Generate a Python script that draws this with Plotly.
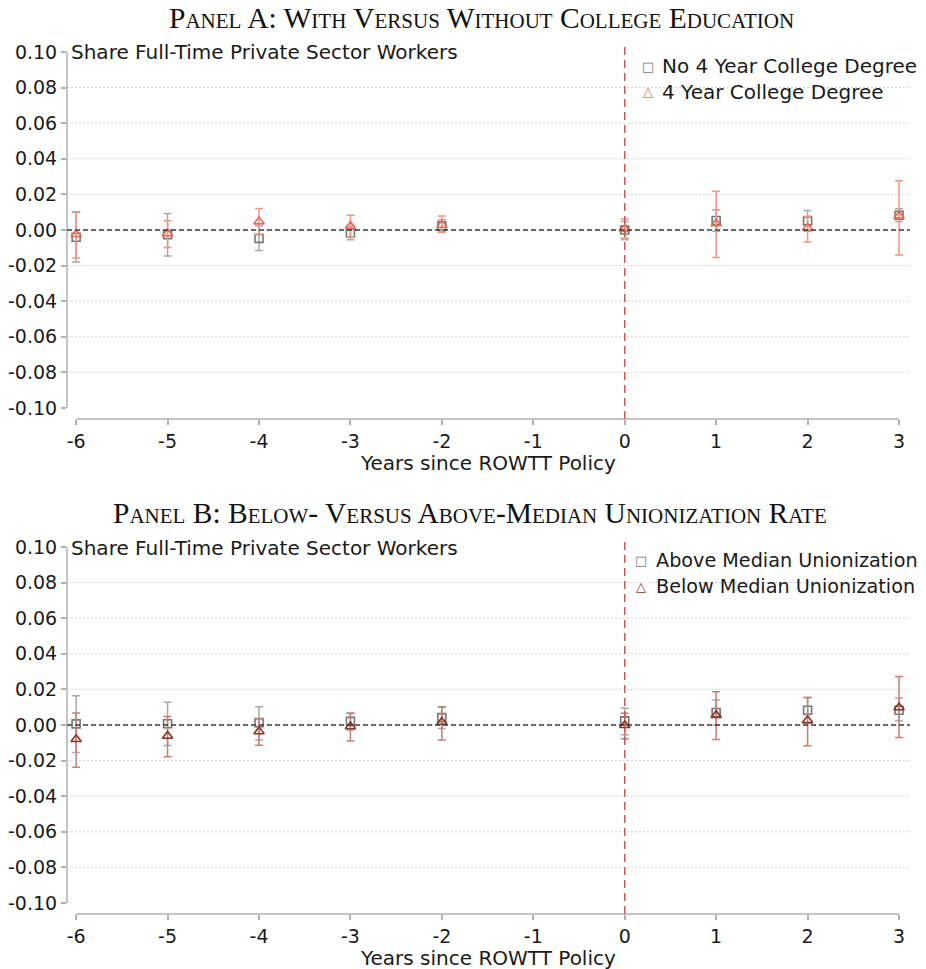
import plotly.graph_objects as go

# ---------------- data ----------------
years = [-6, -5, -4, -3, -2, 0, 1, 2, 3]
x_ticks = [-6, -5, -4, -3, -2, -1, 0, 1, 2, 3]
y_ticks = [-0.10, -0.08, -0.06, -0.04, -0.02, 0.00, 0.02, 0.04, 0.06, 0.08, 0.10]
y_tick_labels = ["-0.10", "-0.08", "-0.06", "-0.04", "-0.02", "0.00",
                 "0.02", "0.04", "0.06", "0.08", "0.10"]
x_tick_labels = ["-6", "-5", "-4", "-3", "-2", "-1", "0", "1", "2", "3"]

# Panel A
no_college_est = [-0.0041, -0.0026, -0.0047, -0.0017, 0.0024, 0.0000, 0.0053, 0.0051, 0.0083]
no_college_lo = [-0.0180, -0.0146, -0.0116, -0.0055, -0.0010, -0.0047, -0.0007, -0.0007, 0.0047]
no_college_hi = [0.0098, 0.0092, 0.0022, 0.0021, 0.0058, 0.0047, 0.0113, 0.0109, 0.0119]
college_est = [-0.0024, -0.0020, 0.0047, 0.0022, 0.0028, 0.0005, 0.0036, 0.0011, 0.0079]
college_lo = [-0.0157, -0.0099, -0.0027, -0.0038, -0.0013, -0.0055, -0.0155, -0.0068, -0.0140]
college_hi = [0.0103, 0.0052, 0.0121, 0.0082, 0.0079, 0.0062, 0.0217, 0.0077, 0.0277]

# Panel B
above_est = [0.0006, 0.0007, 0.0013, 0.0020, 0.0041, 0.0023, 0.0070, 0.0083, 0.0083]
above_lo = [-0.0155, -0.0116, -0.0085, -0.0030, -0.0020, -0.0055, 0.0000, 0.0010, 0.0023]
above_hi = [0.0164, 0.0127, 0.0103, 0.0065, 0.0099, 0.0094, 0.0140, 0.0155, 0.0151]
below_est = [-0.0080, -0.0062, -0.0037, -0.0009, 0.0017, -0.0002, 0.0055, 0.0026, 0.0098]
below_lo = [-0.0237, -0.0179, -0.0114, -0.0090, -0.0084, -0.0077, -0.0081, -0.0117, -0.0070]
below_hi = [0.0067, 0.0047, 0.0035, 0.0067, 0.0103, 0.0066, 0.0187, 0.0155, 0.0272]

title_a = "Panel A: With Versus Without College Education"
title_b = "Panel B: Below- Versus Above-Median Unionization Rate"
y_label = "Share Full-Time Private Sector Workers"
x_label = "Years since ROWTT Policy"
legend_a = ["No 4 Year College Degree", "4 Year College Degree"]
legend_b = ["Above Median Unionization", "Below Median Unionization"]

# ---------------- styling ----------------
W, H = 926, 969
FONT = "DejaVu Sans"
GREY_M = "rgb(118,118,118)"
GREY_E = "rgb(170,170,170)"
SAL_M = "rgb(236,104,84)"
SAL_E = "rgb(242,150,132)"
BRN_M = "rgb(140,52,34)"
BRN_E = "rgb(196,128,116)"
TICKC = "rgb(176,176,176)"
TXT = "#1a1a1a"


def px_x(p):
    return p / W


def px_y(p):
    return (H - p) / H


def err(est, lo, hi):
    return dict(type="data", symmetric=False,
                array=[h - e for e, h in zip(est, hi)],
                arrayminus=[e - l for e, l in zip(est, lo)])


fig = go.Figure()

panels = [
    dict(xa="x", ya="y", top=42, bot=419,
         series=[(no_college_est, no_college_lo, no_college_hi, "square-open", 8, GREY_M, GREY_E, legend_a[0]),
                 (college_est, college_lo, college_hi, "triangle-up-open", 9, SAL_M, SAL_E, legend_a[1])]),
    dict(xa="x2", ya="y2", top=537, bot=914,
         series=[(above_est, above_lo, above_hi, "square-open", 8, GREY_M, GREY_E, legend_b[0]),
                 (below_est, below_lo, below_hi, "triangle-up-open", 9, BRN_M, BRN_E, legend_b[1])]),
]

for p in panels:
    for est, lo, hi, sym, sz, mc, ec, name in p["series"]:
        e = err(est, lo, hi)
        e.update(color=ec, thickness=1.5, width=4)
        fig.add_trace(go.Scatter(
            x=years, y=est, mode="markers", name=name, showlegend=False,
            xaxis=p["xa"], yaxis=p["ya"],
            marker=dict(symbol=sym, size=sz, color=mc, line=dict(width=1.6, color=mc)),
            error_y=e))

x_dom = [px_x(67), px_x(910)]
axis_common = dict(showline=False, zeroline=False, ticks="outside", ticklen=5,
                   tickwidth=1.5, tickcolor=TICKC, automargin=False,
                   tickfont=dict(family=FONT, size=19, color=TXT))

layout = dict(width=W, height=H, margin=dict(l=0, r=0, t=0, b=0),
              plot_bgcolor="white", paper_bgcolor="white", showlegend=False,
              font=dict(family=FONT))
for i, p in enumerate(panels):
    sfx = "" if i == 0 else "2"
    layout["xaxis" + sfx] = dict(axis_common, domain=x_dom, range=[-6.1, 3.12],
                                 tickvals=x_ticks, ticktext=x_tick_labels, showgrid=False,
                                 anchor="y" + sfx)
    layout["yaxis" + sfx] = dict(axis_common, domain=[px_y(p["bot"]), px_y(p["top"])],
                                 range=[-0.1062, 0.1056], tickvals=y_ticks,
                                 ticktext=y_tick_labels, showgrid=False,
                                 anchor="x" + sfx)
fig.update_layout(**layout)

shapes = []
annotations = []
for i, p in enumerate(panels):
    xa, ya = p["xa"], p["ya"]
    for t in y_ticks[1:-1]:
        shapes.append(dict(type="line", xref=f"{xa} domain", yref=ya, x0=0, x1=1, y0=t, y1=t,
                           line=dict(color="rgb(212,212,212)", width=1, dash="2px,2px"), layer="below"))
    shapes.append(dict(type="line", xref=f"{xa} domain", yref=ya, x0=0, x1=0,
                       y0=y_ticks[0], y1=y_ticks[-1], line=dict(color=TICKC, width=1.5)))
    shapes.append(dict(type="line", xref=xa, yref=f"{ya} domain", x0=x_ticks[0], x1=x_ticks[-1],
                       y0=0, y1=0, line=dict(color=TICKC, width=1.5)))
    shapes.append(dict(type="line", xref=f"{xa} domain", yref=ya, x0=0, x1=1, y0=0, y1=0,
                       line=dict(color="rgb(60,60,60)", width=1.6, dash="5px,3px")))
    shapes.append(dict(type="line", xref=xa, yref=f"{ya} domain", x0=0, x1=0, y0=0, y1=1,
                       line=dict(color="rgb(190,92,92)", width=1.5, dash="8px,5px")))

for txt, xc, yc in ((title_a, 482, 18), (title_b, 470, 513)):
    annotations.append(dict(text=txt, xref="paper", yref="paper", x=px_x(xc), y=px_y(yc),
                            showarrow=False, xanchor="center", yanchor="middle",
                            font=dict(family="Liberation Serif", size=29.5, color="#111",
                                      variant="small-caps")))
for ycen in (52, 548):
    annotations.append(dict(text=y_label, xref="paper", yref="paper", x=px_x(69), y=px_y(ycen),
                            showarrow=False, xanchor="left", yanchor="middle",
                            font=dict(family=FONT, size=20, color=TXT)))
for ycen in (463, 958):
    annotations.append(dict(text=x_label, xref="paper", yref="paper", x=px_x(488), y=px_y(ycen),
                            showarrow=False, xanchor="center", yanchor="middle",
                            font=dict(family=FONT, size=20, color=TXT)))

leg_specs = [
    (legend_a, 648, 660, (66, 92), (GREY_M, SAL_M), 20),
    (legend_b, 641, 654, (560, 586), (GREY_M, BRN_M), 19.2),
]
glyphs = ["\u25a1", "\u25b3"]
for names, mx, tx, ys, cols, fs in leg_specs:
    for name, yc, col, g in zip(names, ys, cols, glyphs):
        annotations.append(dict(text=g, xref="paper", yref="paper", x=px_x(mx), y=px_y(yc),
                                showarrow=False, xanchor="center", yanchor="middle",
                                font=dict(family=FONT, size=13, color=col)))
        annotations.append(dict(text=name, xref="paper", yref="paper", x=px_x(tx), y=px_y(yc),
                                showarrow=False, xanchor="left", yanchor="middle",
                                font=dict(family=FONT, size=fs, color=TXT)))

fig.update_layout(shapes=shapes, annotations=annotations)
fig.write_html("out.html", config={"displayModeBar": False},
               post_script="document.body.style.margin='0';")
